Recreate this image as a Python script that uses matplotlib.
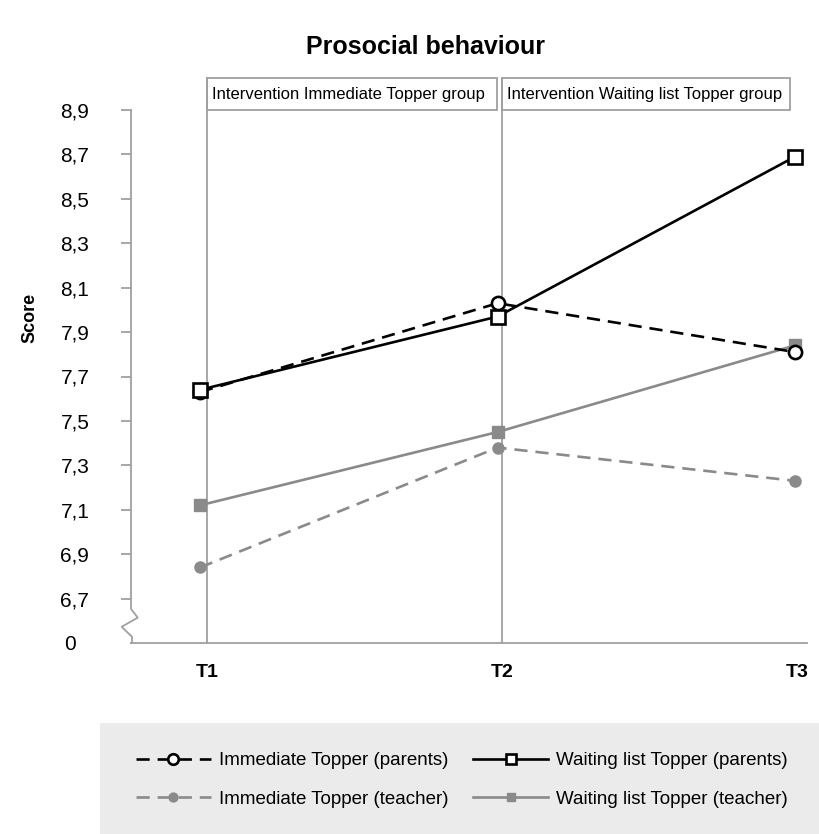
import numpy as np
import matplotlib
matplotlib.use('Agg')
import matplotlib.pyplot as plt
from matplotlib import transforms
from matplotlib.patches import Rectangle

plt.rcParams['font.family'] = ['Liberation Sans', 'DejaVu Sans']

# data
times = ['T1', 'T2', 'T3']
imm_parents = [7.63, 8.03, 7.81]
wl_parents = [7.64, 7.97, 8.69]
imm_teacher = [6.84, 7.38, 7.23]
wl_teacher = [7.12, 7.45, 7.84]
yticks = [6.7, 6.9, 7.1, 7.3, 7.5, 7.7, 7.9, 8.1, 8.3, 8.5, 8.7, 8.9]
phase_labels = ['Intervention Immediate Topper group', 'Intervention Waiting list Topper group']

black = '#000000'
grey = '#8a8a8a'
axgrey = '#a0a0a0'

fig = plt.figure(figsize=(8.19, 8.34), dpi=100)
ax = fig.add_axes([131/819, 1-643/834, 676/819, 533/834])
x = np.arange(len(times))

ax.plot(x, imm_parents, color=black, lw=1.9, dashes=(5, 3), marker='o', ms=9.5,
        mfc='white', mec=black, mew=1.9, label='Immediate Topper (parents)', zorder=5)
ax.plot(x, imm_teacher, color=grey, lw=1.9, dashes=(5, 3), marker='o', ms=8,
        mfc=grey, mec=grey, label='Immediate Topper (teacher)', zorder=4)
ax.plot(x, wl_parents, color=black, lw=1.9, marker='s', ms=9.5,
        mfc='white', mec=black, mew=1.9, label='Waiting list Topper (parents)', zorder=5)
ax.plot(x, wl_teacher, color=grey, lw=1.9, marker='s', ms=8,
        mfc=grey, mec=grey, label='Waiting list Topper (teacher)', zorder=4)

ax.set_xlim(-0.232, 2.04)
ax.set_ylim(6.5, 8.9)

# phase lines + labelled boxes above the plot
top = 9.044
line_x = [0.024, 1.016]
box_right = [0.998, 1.983]
for lx, br, lab in zip(line_x, box_right, phase_labels):
    ax.plot([lx, lx], [6.5, top], color=axgrey, lw=1.3, clip_on=False, zorder=1)
    ax.add_patch(Rectangle((lx, 8.9), br - lx, top - 8.9, fill=False, ec=axgrey,
                           lw=1.3, clip_on=False))
    ax.text(lx + 0.015, (8.9 + top) / 2, lab, fontsize=12, ha='left', va='center')

# axes styling
for s in ['top', 'right', 'left']:
    ax.spines[s].set_visible(False)
ax.spines['bottom'].set_color(axgrey)
ax.spines['bottom'].set_linewidth(1.3)

ax.set_xticks(line_x + [2.007])
ax.set_xticklabels(times, fontsize=14, fontweight='bold')
ax.tick_params(axis='x', length=0, pad=15)

ax.set_yticks(yticks)
ax.set_yticklabels([('%.1f' % v).replace('.', ',') for v in yticks], fontsize=15)
ax.tick_params(axis='y', length=7, width=1.3, color=axgrey, pad=23)

# left axis with a break
tr = transforms.blended_transform_factory(ax.transAxes, ax.transData)
ax.plot([0, 0, 0.0099, -0.0138, 0.0015, 0.0015, 0],
        [8.9, 6.654, 6.614, 6.573, 6.528, 6.5, 6.5], color=axgrey, lw=1.3,
        transform=tr, clip_on=False)
fig.text(70/819, 1-645/834, '0', fontsize=15, ha='center', va='center')

fig.text(425/819, 1-47/834, 'Prosocial behaviour', fontsize=18, fontweight='bold',
         ha='center', va='center')
fig.text(30/819, 1-318/834, 'Score', fontsize=13, fontweight='bold', rotation=90,
         ha='center', va='center')

# legend area
fig.patches.append(Rectangle((100/819, 0), 719/819, 111/834, transform=fig.transFigure,
                             facecolor='#ebebeb', edgecolor='none', zorder=0))
h, l = ax.get_legend_handles_labels()
fig.legend(h, l, ncol=2, loc='center', bbox_to_anchor=(462/819, 1-780/834),
           frameon=False, fontsize=13.5, handlelength=4, handletextpad=0.45,
           columnspacing=1.3, labelspacing=1.15, markerscale=0.8)

fig.savefig('out.png', dpi=100)
